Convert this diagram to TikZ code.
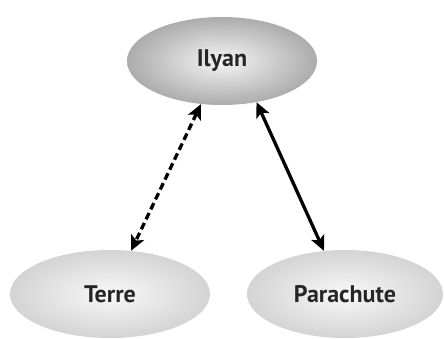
\documentclass[tikz,border=0pt]{standalone}
\usepackage{fontspec}
\setmainfont{PT Sans}
\usetikzlibrary{shapes.geometric,arrows.meta}
\tikzset{
  oval/.style={ellipse, inner sep=0pt, draw=none, text=black!85, font=\fontsize{24}{28}\selectfont\bfseries},
  topoval/.style={oval, minimum width=190pt, minimum height=88pt, inner color=gray!8, outer color=gray!65},
  botoval/.style={oval, minimum width=200pt, minimum height=88pt, inner color=gray!5, outer color=gray!34},
  link/.style={line width=3.3pt, {Stealth[length=15pt,width=14pt,inset=3.5pt]}-{Stealth[length=15pt,width=14pt,inset=3.5pt]}},
  dlink/.style={link, dash pattern=on 7pt off 4pt}
}
\begin{document}
\begin{tikzpicture}[x=1pt,y=-1pt]
\useasboundingbox (0,0) rectangle (444,338);
\node[topoval] (ilyan) at (222,61) {Ilyan};
\node[botoval] (terre) at (110,294) {Terre};
\node[botoval, minimum width=196pt] (para) at (345,294) {Parachute};
\draw[dlink] (ilyan.-116) -- (terre.64);
\draw[link] (ilyan.-50) -- (para.116);
\end{tikzpicture}
\end{document}
